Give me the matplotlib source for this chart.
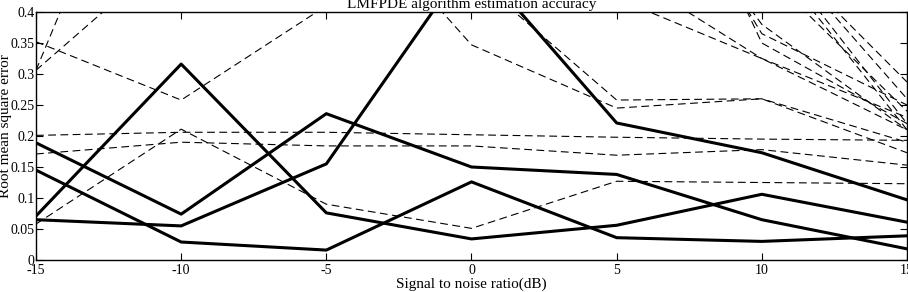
import matplotlib
matplotlib.use("Agg")
import matplotlib.pyplot as plt

# SNR points (dB)
snr = [-15, -10, -5, 0, 5, 10, 15]

# thick solid curves
solid_a = [0.071, 0.316, 0.076, 0.034, 0.056, 0.106, 0.061]
solid_b = [0.189, 0.074, 0.236, 0.150, 0.138, 0.065, 0.018]
solid_c = [0.145, 0.029, 0.016, 0.126, 0.036, 0.030, 0.039]
solid_d = [0.065, 0.055, 0.155, 0.490, 0.221, 0.173, 0.097]

# thin dashed curves (values above 0.4 run off the plot)
dash_1 = [0.306, 0.870, 0.900, 0.850, 0.700, 0.380, 0.210]
dash_2 = [0.306, 0.510, 0.610, 0.347, 0.245, 0.260, 0.173]
dash_3 = [0.352, 0.258, 0.410, 0.460, 0.258, 0.260, 0.190]
dash_4 = [0.201, 0.206, 0.206, 0.202, 0.198, 0.195, 0.193]
dash_5 = [0.171, 0.190, 0.184, 0.184, 0.169, 0.178, 0.153]
dash_6 = [0.058, 0.211, 0.090, 0.051, 0.127, 0.125, 0.123]
dash_7 = [0.900, 0.800, 0.700, 0.750, 0.422, 0.325, 0.210]
dash_8 = [0.900, 0.850, 0.800, 0.800, 0.472, 0.325, 0.230]
dash_9 = [0.950, 0.900, 0.900, 0.900, 0.750, 0.365, 0.250]
dash_10 = [1.000, 0.900, 0.900, 0.900, 0.850, 0.350, 0.220]
dash_11 = [0.900, 0.900, 0.900, 0.900, 0.900, 0.469, 0.240]
dash_12 = [0.900, 0.900, 0.900, 0.900, 0.900, 0.506, 0.210]
dash_13 = [0.900, 0.900, 0.900, 0.900, 0.900, 0.520, 0.220]
dash_14 = [0.900, 0.900, 0.900, 0.900, 0.900, 0.522, 0.287]
dash_15 = [0.900, 0.900, 0.900, 0.900, 0.900, 0.527, 0.260]

solid_lines = [solid_a, solid_b, solid_c, solid_d]
dashed_lines = [dash_1, dash_2, dash_3, dash_4, dash_5, dash_6, dash_7, dash_8,
                dash_9, dash_10, dash_11, dash_12, dash_13, dash_14, dash_15]

y_ticks = [0, 0.05, 0.1, 0.15, 0.2, 0.25, 0.3, 0.35, 0.4]
y_tick_labels = ["0", "0.05", "0.1", "0.15", "0.2", "0.25", "0.3", "0.35", "0.4"]

plt.rcParams["font.family"] = ["Liberation Serif", "DejaVu Serif"]
plt.rcParams["axes.unicode_minus"] = False

fig = plt.figure(figsize=(9.08, 2.92), dpi=100)
ax = fig.add_axes([36 / 908, 1 - 260 / 292, 871 / 908, 248 / 292])

for d in dashed_lines:
    ax.plot(snr, d, color="black", linestyle=(0, (7, 4)), linewidth=0.8)

for s in solid_lines:
    ax.plot(snr, s, color="black", linestyle="-", linewidth=2.2)

ax.set_xlim(-15, 15)
ax.set_ylim(0, 0.4)
ax.set_xticks(snr)
ax.set_yticks(y_ticks)
ax.set_yticklabels(y_tick_labels)
ax.tick_params(direction="in", length=5, width=0.8, labelsize=10,
               top=True, right=True, colors="black")
ax.tick_params(axis="x", pad=3)
ax.tick_params(axis="y", pad=1)
for sp in ax.spines.values():
    sp.set_linewidth(1.0)

ax.set_title("LMFPDE algorithm estimation accuracy", fontsize=11, pad=3)
ax.set_xlabel("Signal to noise ratio(dB)", fontsize=11, labelpad=0)
ax.set_ylabel("Root mean square error", fontsize=11)
ax.yaxis.set_label_coords(-0.027, 0.54)

fig.savefig("out.png", dpi=100)
